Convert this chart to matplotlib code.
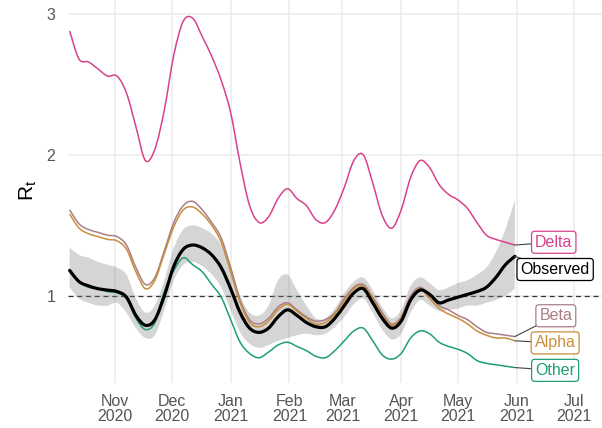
import matplotlib
matplotlib.use("Agg")
import matplotlib.pyplot as plt
import matplotlib.dates as mdates
from matplotlib.path import Path
from matplotlib.patches import PathPatch
import numpy as np
import pandas as pd

plt.rcParams["font.family"] = ["Liberation Sans", "DejaVu Sans"]

# Estimation dates (every 5 days)
dates = pd.date_range("2020-10-08", periods=48, freq="5D")

delta = [2.88, 2.68, 2.66, 2.61, 2.56, 2.56, 2.44, 2.20, 1.96, 2.04, 2.32, 2.71,
         2.95, 2.97, 2.84, 2.70, 2.53, 2.30, 1.94, 1.64, 1.52, 1.56, 1.69, 1.76,
         1.69, 1.64, 1.54, 1.52, 1.61, 1.77, 1.96, 2.00, 1.80, 1.57, 1.48, 1.61,
         1.84, 1.96, 1.91, 1.79, 1.72, 1.68, 1.62, 1.52, 1.43, 1.40, 1.38, 1.36]

beta = [1.61, 1.51, 1.47, 1.45, 1.43, 1.42, 1.36, 1.20, 1.08, 1.13, 1.32, 1.52,
        1.64, 1.67, 1.61, 1.52, 1.41, 1.20, 0.97, 0.83, 0.80, 0.84, 0.92, 0.95,
        0.90, 0.85, 0.82, 0.83, 0.88, 0.98, 1.06, 1.08, 0.99, 0.88, 0.80, 0.85,
        1.00, 1.06, 1.00, 0.93, 0.90, 0.86, 0.83, 0.78, 0.74, 0.73, 0.72, 0.71]

alpha = [1.58, 1.48, 1.44, 1.42, 1.40, 1.39, 1.33, 1.17, 1.05, 1.11, 1.30, 1.49,
         1.61, 1.63, 1.58, 1.50, 1.38, 1.17, 0.95, 0.81, 0.78, 0.82, 0.90, 0.94,
         0.89, 0.84, 0.80, 0.81, 0.87, 0.96, 1.05, 1.07, 0.98, 0.86, 0.79, 0.84,
         0.98, 1.05, 0.98, 0.91, 0.87, 0.84, 0.80, 0.75, 0.72, 0.70, 0.70, 0.68]

other = [1.17, 1.10, 1.06, 1.05, 1.03, 1.02, 0.98, 0.84, 0.76, 0.81, 1.03, 1.18,
         1.27, 1.22, 1.17, 1.08, 0.99, 0.83, 0.67, 0.59, 0.56, 0.60, 0.65, 0.67,
         0.64, 0.61, 0.57, 0.56, 0.61, 0.68, 0.75, 0.77, 0.68, 0.58, 0.55, 0.59,
         0.70, 0.75, 0.73, 0.67, 0.64, 0.62, 0.59, 0.54, 0.52, 0.51, 0.50, 0.49]

observed = [1.18, 1.10, 1.07, 1.05, 1.04, 1.03, 0.99, 0.86, 0.79, 0.83, 1.00, 1.21,
            1.33, 1.36, 1.34, 1.29, 1.20, 1.05, 0.88, 0.77, 0.74, 0.77, 0.85, 0.90,
            0.86, 0.81, 0.78, 0.78, 0.84, 0.93, 1.02, 1.05, 0.95, 0.84, 0.77, 0.82,
            0.97, 1.04, 1.01, 0.95, 0.97, 0.99, 1.01, 1.03, 1.06, 1.13, 1.22, 1.28]

observed_lo = [1.06, 0.98, 0.95, 0.93, 0.93, 0.95, 0.88, 0.77, 0.70, 0.72, 0.90, 1.11,
               1.22, 1.24, 1.21, 1.15, 1.06, 0.90, 0.74, 0.66, 0.63, 0.65, 0.68, 0.70,
               0.72, 0.73, 0.72, 0.73, 0.78, 0.85, 0.94, 0.98, 0.88, 0.76, 0.69, 0.73,
               0.88, 0.97, 0.93, 0.89, 0.90, 0.91, 0.93, 0.93, 0.95, 0.97, 1.00, 1.05]

observed_hi = [1.34, 1.29, 1.27, 1.24, 1.22, 1.20, 1.15, 0.98, 0.88, 0.93, 1.11, 1.34,
               1.47, 1.50, 1.48, 1.44, 1.36, 1.21, 1.00, 0.88, 0.86, 0.93, 1.11, 1.15,
               1.04, 0.93, 0.84, 0.84, 0.91, 1.02, 1.10, 1.13, 1.04, 0.92, 0.84, 0.90,
               1.07, 1.13, 1.09, 1.04, 1.06, 1.09, 1.11, 1.15, 1.20, 1.31, 1.47, 1.68]

series_names = ["Delta", "Beta", "Alpha", "Other"]
series_values = [delta, beta, alpha, other]
series_colors = ["#D8428D", "#A87F86", "#C98E3B", "#1F9E78"]
label_offsets = {"Delta": (28, 2), "Observed": (29, -9.5), "Beta": (29.5, 15),
                 "Alpha": (29, -1.5), "Other": (29, -2)}

month_ticks = pd.date_range("2020-11-01", "2021-07-01", freq="MS")
y_ticks = [1, 2, 3]

xnum = mdates.date2num(dates)


def curve_segments(xs, ys):
    """Vertices and codes of a smooth (Catmull-Rom style) curve through the points."""
    xs = np.asarray(xs, float)
    ys = np.asarray(ys, float)
    pts = np.column_stack([xs, ys])
    n = len(pts)
    verts = [pts[0]]
    codes = [Path.MOVETO]
    for i in range(n - 1):
        p0 = pts[max(i - 1, 0)]
        p1 = pts[i]
        p2 = pts[i + 1]
        p3 = pts[min(i + 2, n - 1)]
        c1 = p1 + (p2 - p0) / 6.0
        c2 = p2 - (p3 - p1) / 6.0
        verts += [c1, c2, p2]
        codes += [Path.CURVE4] * 3
    return verts, codes


def smooth_line(ax, xs, ys, **kw):
    verts, codes = curve_segments(xs, ys)
    ax.add_patch(PathPatch(Path(verts, codes), fill=False, **kw))


def smooth_band(ax, xs, lo, hi, **kw):
    v_hi, c_hi = curve_segments(xs, hi)
    v_lo, c_lo = curve_segments(xs[::-1], lo[::-1])
    c_lo = [Path.LINETO] + c_lo[1:]
    verts = v_hi + v_lo + [v_hi[0]]
    codes = c_hi + c_lo + [Path.CLOSEPOLY]
    ax.add_patch(PathPatch(Path(verts, codes), **kw))


fig = plt.figure(figsize=(6.02, 4.28), dpi=100)
ax = fig.add_axes([0.1125, 0.105, 0.8875, 0.895])

grid_color = "#EBEBEB"
for t in month_ticks:
    ax.axvline(t, color=grid_color, lw=1.1, zorder=0)
for v in y_ticks:
    ax.axhline(v, color=grid_color, lw=1.1, zorder=0)

ax.axhline(1, color="#333333", lw=0.9, ls=(0, (4, 3)), zorder=1)

smooth_band(ax, xnum, np.array(observed_lo), np.array(observed_hi),
            facecolor="#808080", alpha=0.33, lw=0, zorder=2)

for name, vals, col in zip(series_names, series_values, series_colors):
    smooth_line(ax, xnum, vals, edgecolor=col, lw=1.1, zorder=3)
smooth_line(ax, xnum, observed, edgecolor="black", lw=2.3, zorder=4,
            capstyle="round", joinstyle="round")


# End-of-line labels
def end_label(name, vals, col):
    ax.annotate(name, xy=(dates[-1], vals[-1]), xytext=label_offsets[name],
                textcoords="offset points", ha="center", va="center",
                fontsize=11.5, color=col, annotation_clip=False, zorder=6,
                bbox=dict(boxstyle="round,pad=0.22,rounding_size=0.2",
                          fc="white", ec=col, lw=0.9),
                arrowprops=dict(arrowstyle="-", color="#444444", lw=0.8,
                                shrinkA=0, shrinkB=0))


for name, vals, col in zip(series_names, series_values, series_colors):
    end_label(name, vals, col)
end_label("Observed", observed, "black")

ax.set_xlim(pd.Timestamp("2020-10-07"), pd.Timestamp("2021-07-16"))
ax.set_ylim(0.38, 3.1)

ax.set_xticks(month_ticks)
ax.xaxis.set_major_formatter(mdates.DateFormatter("%b\n%Y"))
ax.set_yticks(y_ticks)
ax.set_yticklabels([str(v) for v in y_ticks])
ax.tick_params(axis="both", length=0, labelsize=11.5, colors="#555555")
ax.tick_params(axis="x", pad=8)
ax.tick_params(axis="y", pad=9)
for lab in ax.get_xticklabels():
    lab.set_linespacing(1.0)

for s in ax.spines.values():
    s.set_visible(False)

fig.text(28 / 602, 1 - 190 / 428, r"$\mathregular{R_t}$", rotation=90,
         ha="center", va="center", fontsize=15, color="black")

fig.savefig("out.png", dpi=100)
